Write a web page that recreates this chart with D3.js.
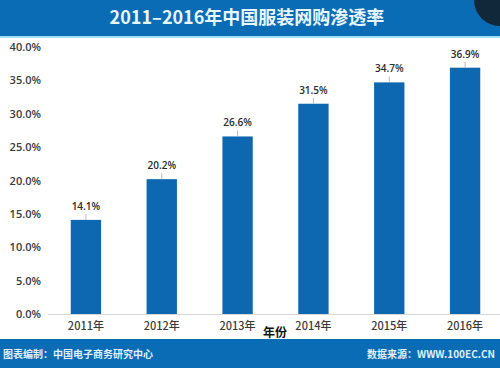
<!DOCTYPE html>
<html>
<head>
<meta charset="utf-8">
<script src="https://cdn.jsdelivr.net/npm/d3@7"></script>
<style>
  body { margin: 0; background: #fff; }
  svg { display: block; font-family: "Noto Sans CJK SC", "Noto Sans", sans-serif; }
</style>
</head>
<body>
<div id="chart"></div>
<script>
// data
var years = ["2011年", "2012年", "2013年", "2014年", "2015年", "2016年"];
var rates = [14.1, 20.2, 26.6, 31.5, 34.7, 36.9];
var yTicks = [0, 5, 10, 15, 20, 25, 30, 35, 40];

var width = 500, height = 368;
var blue = "#0b6cb6";

var svg = d3.select("#chart").append("svg")
    .attr("width", width).attr("height", height);

// header banner
svg.append("rect").attr("x", 0).attr("y", 0).attr("width", width).attr("height", 36).attr("fill", blue);
svg.append("rect").attr("x", 0).attr("y", 36).attr("width", width).attr("height", 2).attr("fill", "#9fe0f2");
svg.append("circle").attr("cx", 500).attr("cy", 0).attr("r", 26).attr("fill", "#10283a");
svg.append("text").attr("x", 247).attr("y", 24)
    .attr("text-anchor", "middle").attr("fill", "#e8f6ff")
    .style("font-size", "18px").style("font-weight", "bold")
    .text("2011–2016年中国服装网购渗透率");

// footer
svg.append("rect").attr("x", 0).attr("y", 339).attr("width", width).attr("height", 29).attr("fill", blue);
svg.append("text").attr("x", 3).attr("y", 358).attr("fill", "#dff0ff")
    .style("font-size", "10px").style("font-weight", "bold")
    .text("图表编制：中国电子商务研究中心");
svg.append("text").attr("x", 495).attr("y", 358).attr("fill", "#dff0ff")
    .attr("text-anchor", "end")
    .style("font-size", "10px").style("font-weight", "bold")
    .text("数据来源：WWW.100EC.CN");

// scales
var x = d3.scaleBand().domain(years).range([48, 503]).paddingInner(0.6).paddingOuter(0.3);
var y = d3.scaleLinear().domain([0, 40]).range([314, 47]);

// y axis labels
var yAxis = d3.axisLeft(y).tickValues(yTicks)
    .tickFormat(function (d) { return d.toFixed(1) + "%"; })
    .tickSize(0).tickPadding(0);
var gy = svg.append("g").attr("transform", "translate(41,0)").call(yAxis);
gy.select(".domain").remove();
gy.selectAll("text").attr("fill", "#3a3a3a").style("font-size", "11px")
    .style("font-weight", "600")
    .style("font-family", "'Open Sans', sans-serif");

// x axis
var xAxis = d3.axisBottom(x).tickSize(0).tickPadding(8);
var gx = svg.append("g").attr("transform", "translate(0,314)").call(xAxis);
gx.select(".domain").attr("stroke", "#d8d8d8").attr("d", "M48,0.5H500");
gx.selectAll("text").attr("fill", "#3a3a3a").style("font-size", "11px")
    .style("font-weight", "500")
    .style("font-family", "'Noto Sans CJK SC', sans-serif");

// bars
svg.selectAll(".bar").data(rates).enter().append("rect")
    .attr("class", "bar")
    .attr("x", function (d, i) { return x(years[i]); })
    .attr("y", function (d) { return y(d); })
    .attr("width", x.bandwidth())
    .attr("height", function (d) { return y(0) - y(d); })
    .attr("fill", "#0d68b1");

// leader lines and labels
svg.selectAll(".lead").data(rates).enter().append("line")
    .attr("x1", function (d, i) { return x(years[i]) + x.bandwidth() / 2; })
    .attr("x2", function (d, i) { return x(years[i]) + x.bandwidth() / 2; })
    .attr("y1", function (d) { return y(d) - 6; })
    .attr("y2", function (d) { return y(d); })
    .attr("stroke", "#bbb");

svg.selectAll(".lbl").data(rates).enter().append("text")
    .attr("x", function (d, i) { return x(years[i]) + x.bandwidth() / 2; })
    .attr("y", function (d) { return y(d) - 10; })
    .attr("text-anchor", "middle")
    .attr("fill", "#2a2a2a")
    .style("font-size", "10px")
    .style("font-weight", "600")
    .style("font-family", "'Open Sans', sans-serif")
    .text(function (d) { return d.toFixed(1) + "%"; });

// axis title
svg.append("text").attr("x", 275).attr("y", 337)
    .attr("text-anchor", "middle").attr("fill", "#111")
    .style("font-size", "12px").style("font-weight", "bold")
    .text("年份");
</script>
</body>
</html>
